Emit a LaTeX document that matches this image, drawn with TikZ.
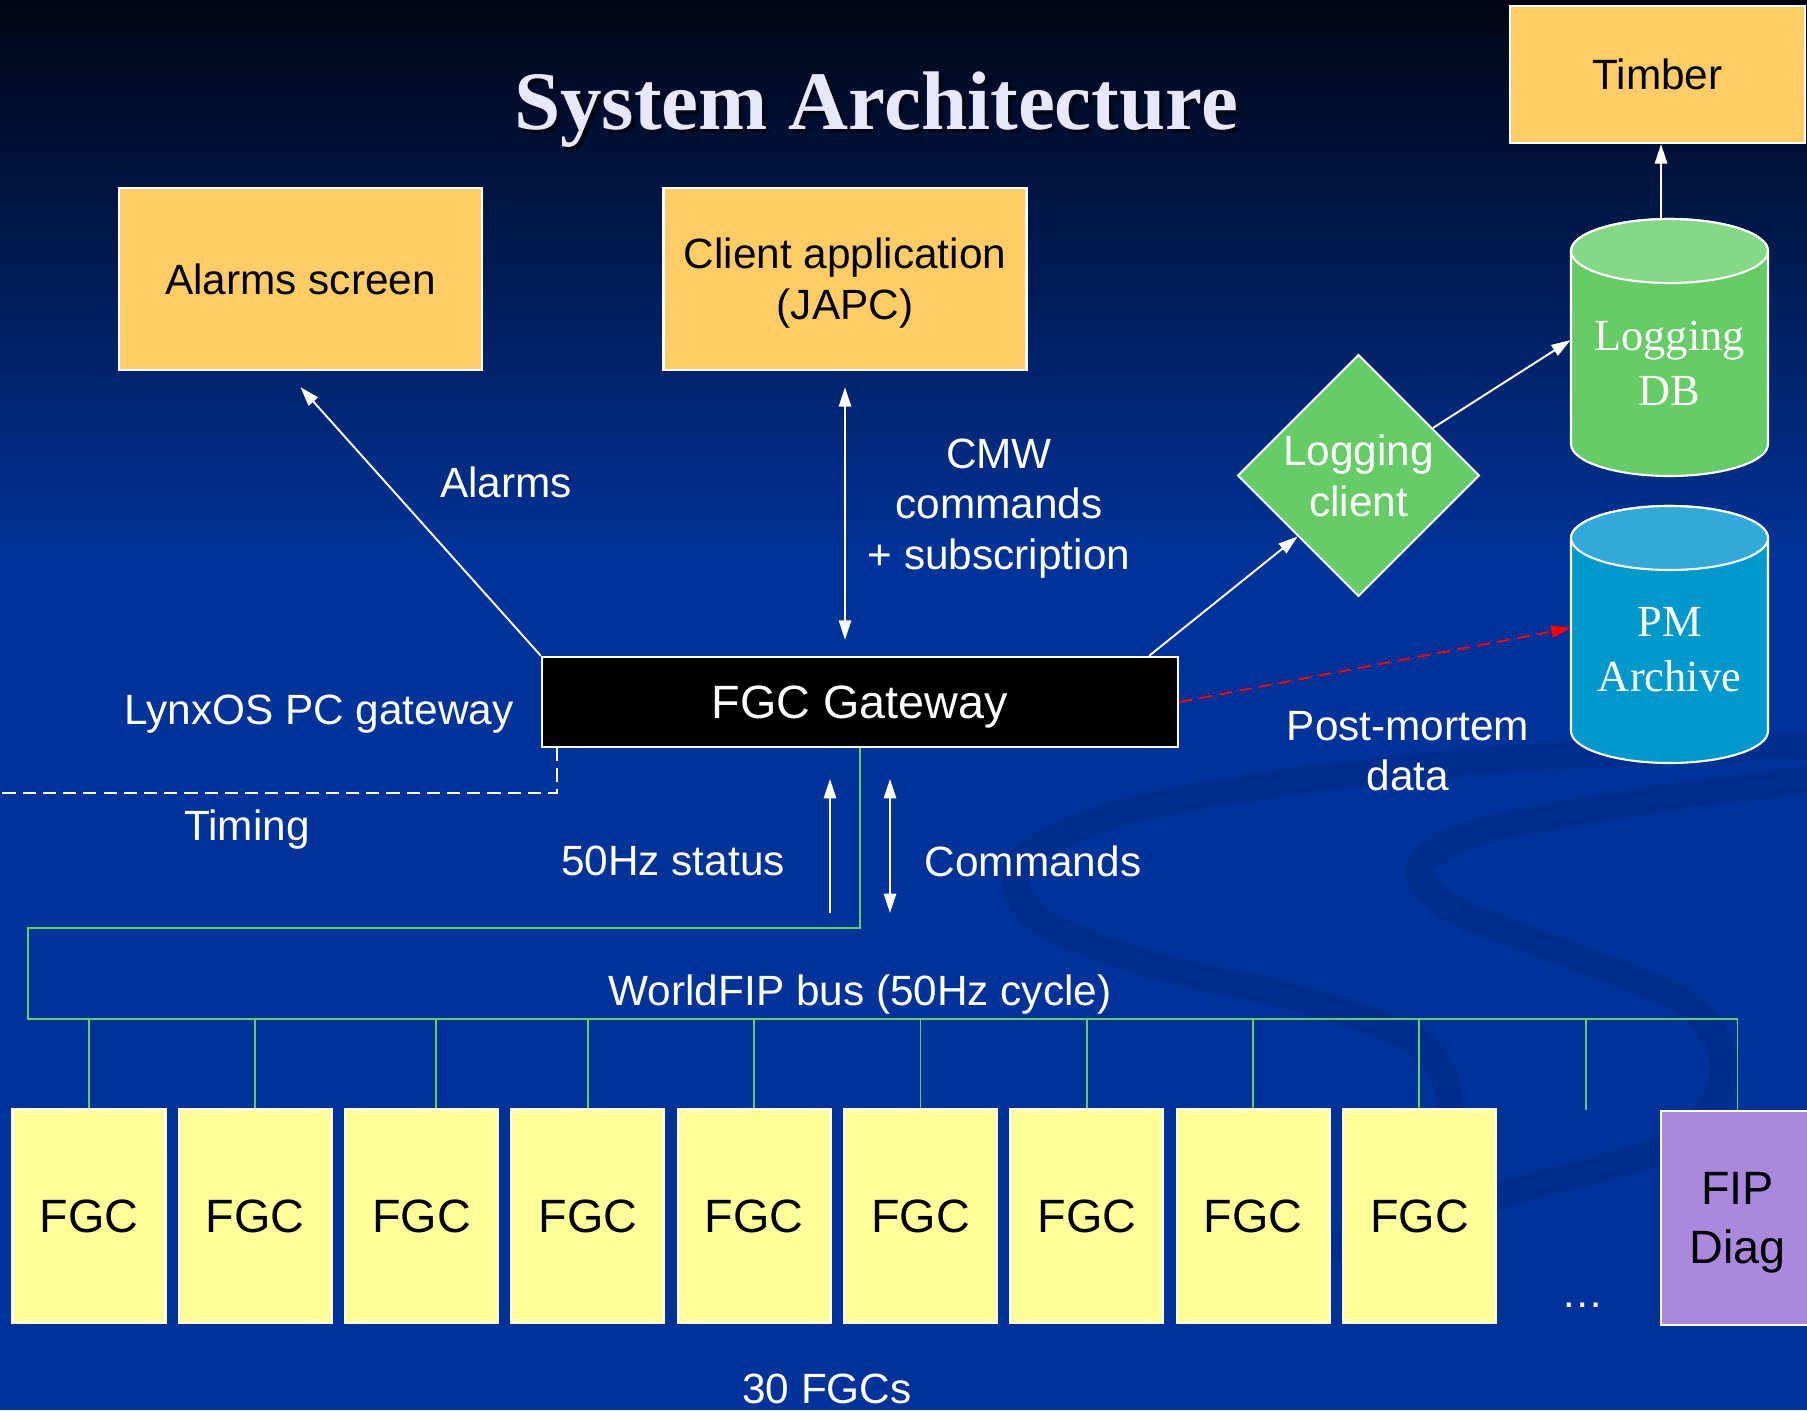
\documentclass[tikz,border=0pt]{standalone}
\usepackage{fontspec}
\setmainfont{Liberation Sans}
\newfontfamily\seriffont{Liberation Serif}
\usetikzlibrary{calc,shapes.geometric,arrows.meta}

\definecolor{bgblue}{HTML}{003399}
\definecolor{bgtop}{RGB}{0,5,20}
\definecolor{swooshblue}{RGB}{0,46,143}
\definecolor{boxorange}{HTML}{FFCC66}
\definecolor{fgcyellow}{HTML}{FFFF99}
\definecolor{diagpurple}{HTML}{AA88DD}
\definecolor{loggreen}{HTML}{66CC66}
\definecolor{loggreentop}{HTML}{85D985}
\definecolor{pmblue}{HTML}{0099CC}
\definecolor{pmbluetop}{HTML}{33AAD5}
\definecolor{busgreen}{HTML}{66CC66}
\definecolor{titlewhite}{RGB}{232,232,252}

\newcommand{\lblfont}{\fontsize{24.1}{28.9}\selectfont}
\newcommand{\bigfont}{\fontsize{26.6}{34}\selectfont}

\tikzset{
  lbl/.style={text=white,font=\lblfont,align=center,inner sep=0pt,text depth=0pt},
  appbox/.style={draw=white,line width=1.4pt,fill=boxorange,font=\lblfont,align=center,text depth=0pt},
  fgcbox/.style={draw=white,line width=1.2pt,fill=fgcyellow,minimum width=3.06cm,
    minimum height=4.28cm,font=\bigfont,align=center,text depth=0pt},
  dbtext/.style={text=white,font=\seriffont\fontsize{25.3}{31.2}\selectfont,align=center,
    inner sep=0pt,minimum width=3.94cm},
  dbside/.style={draw=white,line width=1.2pt},
  link/.style={white,line width=1.1pt,-{Triangle[length=11pt,width=7pt]}},
  bilink/.style={white,line width=1.1pt,{Triangle[length=11pt,width=7pt]}-{Triangle[length=11pt,width=7pt]}},
  bus/.style={busgreen,line width=1.1pt},
  swoosh/.style={swooshblue,line width=16pt,line cap=round},
  titletext/.style={font=\seriffont\bfseries\fontsize{47.3}{50}\selectfont},
}

\begin{document}
\begin{tikzpicture}[x=0.02cm,y=-0.02cm]
\useasboundingbox (0,0) rectangle (1807,1410);
\clip (0,0) rectangle (1807,1410);

% background
\fill[bgblue] (0,0) rectangle (1807,1410);
\shade[top color=bgtop,bottom color=bgblue] (0,0) rectangle (1807,560);
\draw[swoosh] plot[smooth] coordinates {(1807,745) (1536,757) (1305,780) (1131,810) (1033,850)
      (1016,887) (1050,927) (1160,967) (1305,1000) (1420,1043) (1450,1100) (1440,1140)};
\draw[swoosh] plot[smooth] coordinates {(1807,780) (1652,800) (1478,832) (1420,867) (1449,907)
      (1565,953) (1681,1000) (1721,1050) (1715,1100) (1661,1150) (1500,1195) (1330,1250)};

% title
\node[titletext,text=black!85!bgblue] (titleshadow) at (880,114) {System Architecture};
\node[titletext,text=titlewhite] (title) at (876,110) {System Architecture};

% applications
\node[appbox,minimum width=7.26cm,minimum height=3.64cm] (alarms) at (300.5,279) {Alarms screen};
\node[appbox,minimum width=7.26cm,minimum height=3.64cm] (client) at (845,279) {Client application\\(JAPC)};
\node[appbox,minimum width=5.9cm,minimum height=2.74cm] (timber) at (1657.5,74.5) {Timber};

% gateway
\node[draw=white,line width=1.4pt,fill=black,text=white,font=\bigfont,text depth=0pt,
      minimum width=12.72cm,minimum height=1.8cm] (gw) at (860,702) {FGC Gateway};
\node[diamond,draw=white,line width=1.1pt,fill=loggreen,text=white,font=\lblfont,align=center,
      text depth=0pt,inner sep=-3pt,minimum width=4.84cm,minimum height=4.84cm] (logc) at (1358.5,475.5) {Logging\\client};

% databases
\filldraw[dbside,fill=loggreen] (1571,251) -- (1571,444) arc[start angle=180,end angle=0,x radius=98.5,y radius=32]
      -- (1768,251) arc[start angle=0,end angle=-180,x radius=98.5,y radius=32] -- cycle;
\filldraw[dbside,fill=loggreentop] (1669.5,251) ellipse[x radius=98.5,y radius=32];
\node[dbtext] (logdb) at (1669.5,363) {Logging\\DB};
\coordinate (dbtop) at (1661,219);

\filldraw[dbside,fill=pmblue] (1571,538) -- (1571,731) arc[start angle=180,end angle=0,x radius=98.5,y radius=32]
      -- (1768,538) arc[start angle=0,end angle=-180,x radius=98.5,y radius=32] -- cycle;
\filldraw[dbside,fill=pmbluetop] (1669.5,538) ellipse[x radius=98.5,y radius=32];
\node[dbtext] (pm) at (1669.5,650) {PM\\Archive};

% links from the gateway
\draw[link] (gw.north west) -- ([yshift=-0.32cm]alarms.south);
\draw[bilink,shorten <=0.32cm,shorten >=0.32cm] (client.south) -- (client.south |- gw.north);
\draw[link] ($(gw.north west)!0.953!(gw.north east)$) -- (logc.south west);
\draw[link] (logc) -- ([yshift=0.46cm]logdb.west);
\draw[link] (dbtop) -- (dbtop |- timber.south);
\draw[red,line width=1.1pt,dash pattern=on 7.5pt off 4pt,-{Triangle[length=11pt,width=7pt]}] (gw.east) -- ([yshift=0.44cm]pm.west);

\node[lbl] (alarmslbl) at (506,482) {Alarms};
\node[lbl] (cmwlbl) at (999,504) {CMW\\commands\\+ subscription};
\node[lbl] (pmlbl) at (1408,751) {Post-mortem\\data};
\node[lbl] (lynxlbl) at (319,710) {LynxOS PC gateway};

% timing
\coordinate (tmend) at (0,793);
\draw[white,line width=1.1pt,dash pattern=on 7.5pt off 4pt] ([xshift=0.32cm]gw.south west) |- (tmend);
\node[lbl] (timinglbl) at (247,825) {Timing};

% status and commands
\coordinate (st1) at (830,913);
\coordinate (st2) at (830,779);
\coordinate (cm1) at (890,779);
\coordinate (cm2) at (890,913);
\draw[link] (st1) -- (st2);
\draw[bilink] (cm1) -- (cm2);
\node[lbl] (statuslbl) at (673,861) {50Hz status};
\node[lbl] (cmdlbl) at (1033,861) {Commands};

% FGCs on the WorldFIP bus
\foreach \i in {1,...,9}
  \node[fgcbox] (fgc\i) at ({89+166.3*(\i-1)},1216) {FGC};
\node[fgcbox,fill=diagpurple] (diag) at (1737.5,1218) {FIP\\Diag};

\coordinate (busw) at (28,928);
\coordinate (buse) at (1737.5,1019);
\draw[bus] (gw.south) |- (busw) |- (buse) -- (diag.north);
\foreach \i/\dx in {1/0,2/0,3/0.28,4/0,5/0,6/0,7/0,8/0,9/0}
  \draw[bus] ([xshift=\dx cm]fgc\i.north |- buse) -- ([xshift=\dx cm]fgc\i.north);
\coordinate (dots) at (1586,1110);
\draw[bus] (dots |- buse) -- (dots);

\node[lbl] (buslbl) at (860,990) {WorldFIP bus (50Hz cycle)};
\node[lbl] (dotslbl) at (1583,1305) {\dots};
\node[lbl] (countlbl) at (827,1389) {30 FGCs};
\end{tikzpicture}
\end{document}
